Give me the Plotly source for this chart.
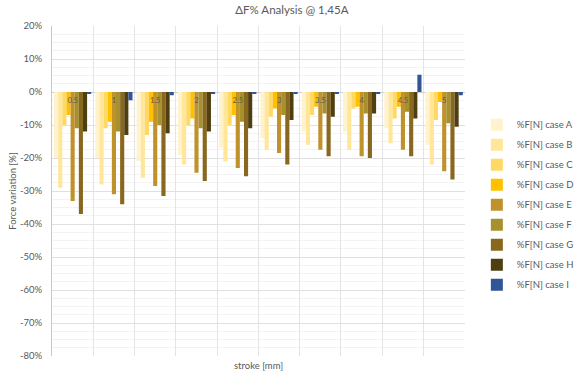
import plotly.graph_objects as go

# ---- data ----
strokes = ["0.5", "1", "1.5", "2", "2.5", "3", "3.5", "4", "4.5", "5"]
case_a = [-20, -20, -21, -19, -17, -14, -12, -12, -11, -16]
case_b = [-29, -28, -26, -22, -21, -17.5, -16, -17.5, -15.5, -22]
case_c = [-10, -11, -13, -10, -10, -7.5, -7, -5, -8, -8.5]
case_d = [-7, -9, -9, -8, -7, -5, -4.5, -4.5, -4.5, -3]
case_e = [-33, -31, -28.5, -24.5, -23, -18.5, -17.5, -19.5, -17.5, -24]
case_f = [-11, -12, -10, -11, -9, -7, -6.5, -6.5, -6, -9.5]
case_g = [-37, -34, -31.5, -27, -25.5, -22, -19.5, -20, -19.5, -26.5]
case_h = [-12, -13, -12.5, -12, -11, -8.5, -7.5, -6.5, -8, -10.5]
case_i = [-0.5, -2.5, -1, -0.5, -0.5, -0.5, -0.5, -0.5, 5.2, -1]

series_names = ["%F[N] case A", "%F[N] case B", "%F[N] case C", "%F[N] case D",
                "%F[N] case E", "%F[N] case F", "%F[N] case G", "%F[N] case H",
                "%F[N] case I"]
series_values = [case_a, case_b, case_c, case_d, case_e, case_f, case_g, case_h, case_i]
colors = ["#FFF2CC", "#FFE699", "#FFD966", "#FFC000", "#BF922C",
          "#A6912E", "#87681E", "#4F3E10", "#2F5597"]

y_tick_vals = [20, 10, 0, -10, -20, -30, -40, -50, -60, -70, -80]
y_tick_text = ["20%", "10%", "0%", "-10%", "-20%", "-30%", "-40%", "-50%",
               "-60%", "-70%", "-80%"]

FONT = "Lato, 'Open Sans', sans-serif"
GRAY = "#595959"

fig = go.Figure()
for name, vals, col in zip(series_names, series_values, colors):
    fig.add_trace(go.Bar(x=strokes, y=vals, name=name, marker_color=col,
                         marker_line_width=0, legendgroup=name))

fig.update_layout(
    width=578, height=373,
    margin=dict(l=50, r=77, t=26, b=15),
    paper_bgcolor="white", plot_bgcolor="white",
    barmode="group", bargap=0.1, bargroupgap=0,
    font=dict(family=FONT, color=GRAY, size=10),
    title=dict(text="ΔF% Analysis @ 1,45A", x=0.505, xanchor="center",
               y=0.985, yanchor="top", font=dict(size=11.5, color=GRAY)),
    showlegend=True,
    legend=dict(xref="container", x=0.825, xanchor="left",
                yref="paper", y=0.745, yanchor="top",
                font=dict(size=9.5, color=GRAY), tracegroupgap=1,
                itemwidth=30, bgcolor="rgba(0,0,0,0)"),
    xaxis=dict(type="category", anchor="free", position=0.8,
               tickson="boundaries", showgrid=True, gridcolor="#E4E4E4",
               ticks="", showline=False, zeroline=False,
               tickfont=dict(size=7.5, color=GRAY), ticklabelstandoff=2),
    yaxis=dict(range=[-80, 20], tickvals=y_tick_vals, ticktext=y_tick_text,
               showgrid=True, gridcolor="#E0E0E0", zeroline=True,
               zerolinecolor="#D0D0D0", zerolinewidth=1,
               showline=True, linecolor="#C8C8C8", ticks="",
               ticklabelstandoff=7,
               tickfont=dict(size=9.5, color=GRAY),
               minor=dict(dtick=2.5, showgrid=True, gridcolor="#F3F3F3"),
               title=dict(text="Force variation [%]", font=dict(size=9.5, color=GRAY),
                          standoff=1)),
)

fig.add_annotation(text="stroke [mm]", xref="paper", yref="paper",
                   x=0.5, y=-0.005, yanchor="top", showarrow=False,
                   font=dict(size=9.5, color=GRAY, family=FONT))

fig.write_html("out.html", config={"displayModeBar": False},
               post_script="document.body.style.margin='0px';")
